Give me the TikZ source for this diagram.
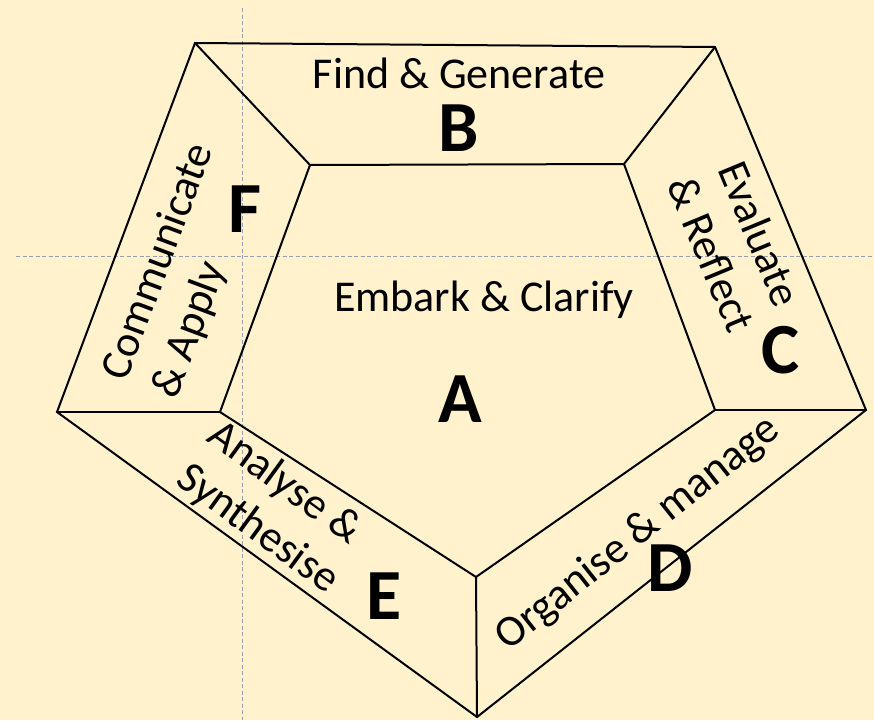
\documentclass[tikz,border=0pt]{standalone}
\usepackage{fontspec}
\setmainfont{Carlito}
\definecolor{bgcol}{RGB}{255,242,204}
\definecolor{guidecol}{RGB}{155,158,175}
\begin{document}
\begin{tikzpicture}[x=1pt,y=-1pt,
  edge/.style={line width=2pt,line join=miter,black},
  guide/.style={guidecol,line width=0.8pt,dash pattern=on 4pt off 2.5pt},
  lbl/.style={font=\fontsize{44}{53}\selectfont,inner sep=0pt},
  big/.style={font=\fontsize{72}{80}\selectfont\bfseries,inner sep=0pt}]
\fill[bgcol] (0,0) rectangle (874,720);
\useasboundingbox (0,0) rectangle (874,720);
% guides
\coordinate (gv1) at (242,8);
\coordinate (gv2) at (242,720);
\coordinate (gh1) at (16,256);
\coordinate (gh2) at (874,256);
\draw[guide] (gv1) -- (gv2);
\draw[guide] (gh1) -- (gh2);
% outer pentagon
\coordinate (o1) at (195,43);
\coordinate (o2) at (715,47);
\coordinate (o3) at (866,410);
\coordinate (o4) at (477,717);
\coordinate (o5) at (57,412);
% inner pentagon
\coordinate (i1) at (310,165);
\coordinate (i2) at (624,164);
\coordinate (i3) at (715,410);
\coordinate (i4) at (476,577);
\coordinate (i5) at (220,412);
\draw[edge] (o1) -- (o2) -- (o3) -- (o4) -- (o5) -- cycle;
\draw[edge] (i1) -- (i2) -- (i3) -- (i4) -- (i5) -- cycle;
\draw[edge] (o1) -- (i1);
\draw[edge] (o2) -- (i2);
\draw[edge] (o3) -- (i3);
\draw[edge] (o4) -- (i4);
\draw[edge] (o5) -- (i5);
% labels
\node[lbl] (tb) at (459,73) {Find \& Generate};
\node[big] (lb) at (459,128) {B};
\node[lbl] (ta) at (484,300) {Embark \& Clarify};
\node[big] (la) at (460,399) {A};
\node[lbl,rotate=-67.5,align=center] (tc) at (736,244) {Evaluate\\\& Reflect};
\node[big] (lc) at (781,350) {C};
\node[lbl,rotate=38.5] (td) at (638,534) {Organise \& manage};
\node[big] (ld) at (670,568) {D};
\node[lbl,rotate=-36,align=left] (te) at (273,508) {Analyse \&\\Synthesise};
\node[big] (le) at (384,596) {E};
\node[lbl,rotate=69.5,align=left] (tf) at (184,271) {Communicate\\\& Apply};
\node[big] (lf) at (245,209) {F};
\end{tikzpicture}
\end{document}
